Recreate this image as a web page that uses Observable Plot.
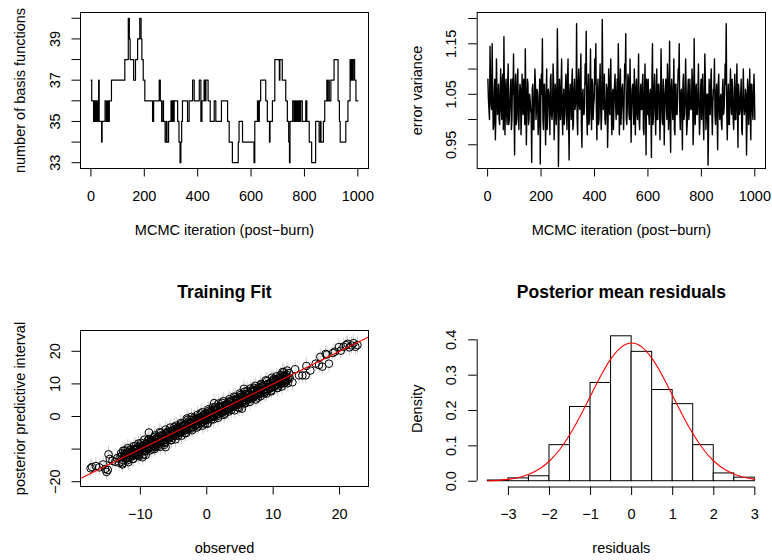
<!DOCTYPE html>
<html><head><meta charset="utf-8">
<script src="https://cdn.jsdelivr.net/npm/d3@7"></script>
<script src="https://cdn.jsdelivr.net/npm/@observablehq/plot@0.6"></script>
<style>
body{margin:0;background:#fff;}
#wrap{position:relative;width:772px;height:560px;background:#fff;overflow:hidden;}
#wrap svg{position:absolute;}
</style></head><body><div id="wrap"></div>
<script>
// ---------- Panel 1: number of basis functions (step trace, change points) ----------
const p1Iter = [1,3,10,12,14,16,18,20,22,24,26,29,31,40,42,53,58,62,66,69,77,127,140,144,147,160,167,175,183,188,191,196,202,231,235,256,260,265,270,272,278,283,285,291,300,302,304,306,308,310,312,325,330,334,337,340,343,362,368,381,387,406,412,416,424,428,431,439,447,462,468,489,512,518,530,552,555,568,611,614,624,628,631,636,655,661,669,671,680,689,706,708,717,730,736,741,744,746,756,761,765,768,772,775,779,782,786,792,805,809,818,827,842,855,860,862,871,876,884,886,891,893,899,911,926,931,934,955,963,971,975,977,981,983,988,993,1000];
const p1Basis = [37,36,35,36,35,36,35,36,35,36, 35,37,35,34,35,36,35,36,35,36, 37,38,40,39,38,37,38,39,40,39, 38,37,36,35,36,37,36,35,36,35, 34,35,34,35,36,35,36,35,36,35, 36,35,34,33,34,35,36,35,36,37, 36,37,35,36,37,36,37,36,35,36, 35,36,35,34,33,34,35,34,33,35, 36,35,36,37,36,35,34,35,36,38, 37,38,37,36,35,34,33,35,36,35, 36,35,36,35,36,35,36,35,36,35, 34,33,35,34,35,34,35,36,37,36, 37,36,37,38,36,35,34,35,36,38, 37,38,37,38,37,36,36];
const p1YTicks = [33,34,35,36,37,38,39,40];
const p1YLabels = ["33","","35","","37","","39",""];
const iterTicks = [0,200,400,600,800,1000];
const iterLabels = ["0","200","400","600","800","1000"];

// ---------- Panel 2: error variance trace ----------
// readings at iterations 1,5,9,...,997 (spikes and troughs)
const p2VarA = [
1.08,1.02,1.145,1.03,1.15,0.98,1.06,0.96,1.12,1.01,
1.07,0.99,1.10,1.00,1.09,1.164,0.97,1.08,0.99,1.11,
1.00,1.06,0.98,1.08,1.13,0.93,1.09,1.00,1.10,0.98,
1.07,0.97,1.09,1.01,1.06,1.14,0.95,1.08,0.99,1.05,
1.02,0.915,1.07,0.98,1.10,1.00,1.06,0.97,1.04,0.912,
1.09,1.16,0.98,1.07,0.95,1.10,1.01,1.05,0.97,1.09,
1.00,1.11,0.96,1.07,0.99,1.18,0.907,1.08,1.00,1.12,
0.97,1.06,1.01,1.09,0.98,1.12,0.92,1.07,1.00,1.10,
0.99,1.08,1.03,1.19,0.97,1.10,1.02,1.13,0.945,1.06,
1.01,1.11,1.175,0.97,1.09,1.00,1.14,0.98,1.07,1.03,
1.12,1.15,0.96,1.08,1.00,1.11,0.98,1.198,1.02,1.09,
0.99,1.07,0.945,1.10,1.01,1.12,0.97,1.06,1.03,1.09,
1.00,1.08,1.15,0.97,1.10,1.02,1.07,0.98,1.11,1.17,
0.99,1.09,1.01,1.12,0.955,1.06,1.03,1.10,0.97,1.08,
1.00,1.13,0.98,1.07,1.02,1.09,0.97,1.11,0.93,1.05,
1.08,0.99,1.06,0.925,1.15,1.01,1.09,0.97,1.10,1.00,
1.07,0.96,1.14,1.00,1.08,0.95,1.06,1.02,1.11,0.98,
1.155,0.935,1.08,1.00,1.12,0.97,1.07,1.01,1.10,1.15,
0.98,1.06,0.94,1.09,1.01,1.12,0.97,1.05,1.00,1.08,
1.02,1.10,0.95,1.16,0.99,1.07,1.01,1.11,0.97,1.06,
1.00,1.09,0.96,1.13,0.98,1.05,0.91,1.08,1.01,1.10,
0.97,1.06,1.12,0.99,1.07,0.94,1.09,1.00,1.05,0.98,
1.08,1.02,1.11,1.19,0.96,1.07,0.99,1.10,1.01,1.06,
0.98,1.09,1.00,1.11,0.945,1.05,1.02,1.08,0.97,1.10,
1.01,1.06,0.93,1.08,0.99,1.10,0.96,1.07,1.00,1.09];
// readings at iterations 3,7,11,...,999 (the dense central band)
const p2VarB = [
1.04,1.00,1.07,1.02,1.05,0.99,1.08,1.01,1.06,1.03,
1.00,1.05,1.02,1.08,0.98,1.04,1.06,1.01,1.07,0.99,
1.03,1.08,1.00,1.05,1.02,1.06,0.99,1.07,1.01,1.04,
1.06,1.01,1.03,1.08,0.99,1.05,1.02,1.07,1.00,1.04,
1.01,1.06,0.98,1.04,1.07,1.02,1.05,0.99,1.08,1.03,
1.05,1.00,1.07,1.02,1.04,0.98,1.06,1.03,1.08,1.01,
1.02,1.07,1.00,1.05,1.03,1.08,0.99,1.04,1.06,1.01,
1.04,0.99,1.06,1.02,1.08,1.00,1.05,1.03,1.07,0.98,
1.06,1.02,1.04,1.00,1.07,1.03,1.08,0.99,1.05,1.01,
1.03,1.07,1.01,1.05,0.99,1.06,1.02,1.08,1.00,1.04,
1.07,1.02,1.05,0.99,1.06,1.03,1.01,1.08,1.04,1.00,
1.02,1.06,1.00,1.04,1.08,1.01,1.05,0.98,1.07,1.03,
1.05,1.01,1.07,1.03,0.99,1.06,1.02,1.04,1.08,1.00,
1.03,1.08,1.00,1.05,1.02,1.07,0.99,1.04,1.06,1.01,
1.06,1.00,1.04,1.02,1.07,0.98,1.05,1.03,1.08,1.01,
1.01,1.05,1.03,1.08,0.99,1.06,1.02,1.04,1.00,1.07,
1.04,1.02,1.06,0.99,1.05,1.03,1.08,1.00,1.07,1.02,
1.00,1.06,1.03,1.05,0.98,1.07,1.01,1.04,1.08,1.02,
1.05,1.01,1.07,1.00,1.04,1.06,0.99,1.08,1.02,1.03,
1.02,1.07,0.99,1.04,1.06,1.01,1.05,1.03,1.00,1.08,
1.06,1.00,1.04,1.08,1.01,1.05,0.98,1.03,1.07,1.02,
1.03,1.06,1.01,1.05,1.00,1.07,1.02,1.04,0.99,1.06,
1.01,1.05,1.07,1.02,1.04,0.99,1.06,1.03,1.08,1.00,
1.04,1.00,1.06,1.02,1.07,1.01,1.05,0.98,1.04,1.03,
1.02,1.05,1.00,1.06,1.03,1.01,1.07,1.02,1.05,1.04];
const p2LastIter = 1000, p2LastVar = 1.00;
const p2YTicks = [0.95,1.00,1.05,1.10,1.15,1.20];
const p2YLabels = ["0.95","","1.05","","1.15",""];

// ---------- Panel 3: training fit ----------
const p3Obs = [
-17.5,-17.3,-16.7,-16.2,-15.6,-15.3,-15.1,-14.9,-14.8,-14.6,-14.2,-13.8,-13.5,-13.2,-13.0,
-12.8,-12.6,-12.4,-12.2,-12.0,-11.8,-11.6,-11.4,-11.2,-11.0,-10.8,-10.6,-10.4,-10.2,-10.0,-9.8,-9.7,-9.6,-9.4,-9.2,-9.0,-8.8,-8.7,-8.6,-8.4,-8.2,-8.0,-7.8,-7.7,-7.6,-7.4,-7.2,-7.0,-6.8,-6.6,-6.4,-6.2,-6.0,-5.8,-5.6,-5.4,-5.2,-5.0,-4.8,-4.6,-4.4,-4.2,-4.0,-3.8,-3.6,-3.4,-3.2,-3.0,-2.8,-2.6,-2.4,-2.2,-2.0,-1.8,-1.6,-1.4,-1.2,-1.0,-0.8,-0.6,-0.4,-0.2,0.0,0.1,0.2,0.4,0.6,0.8,1.0,1.1,1.2,1.4,1.6,1.8,2.0,2.2,2.4,2.6,2.8,3.0,3.2,3.4,3.6,3.8,4.0,4.2,4.4,4.6,4.8,5.0,5.3,5.2,5.4,5.6,5.6,5.8,6.0,6.2,6.4,6.6,6.8,7.0,7.2,7.4,7.6,7.8,8.0,8.2,8.4,8.6,8.8,9.0,9.2,9.4,9.6,9.8,10.0,10.2,10.4,10.6,10.8,11.0,11.2,11.4,11.6,11.8,12.0,12.2,
-12.5,-12.1,-11.7,-11.3,-10.9,-10.5,-10.1,-9.5,-9.1,-8.5,-8.1,-7.5,-7.1,-6.5,-6.1,-5.5,-5.1,-4.5,-4.1,-3.5,-3.1,-2.5,-2.1,-1.5,-1.1,-0.5,-0.1,0.5,0.9,1.5,1.9,2.5,2.9,3.5,3.9,4.5,4.9,5.5,5.9,6.5,6.9,7.5,7.9,8.5,8.9,9.5,9.9,10.5,10.9,11.5,11.9,12.3,12.5,11.8,12.4,11.6,
12.9,13.9,14.4,14.9,15.6,16.4,16.9,17.1,17.4,17.9,18.1,18.4,19.0,19.3,19.9,20.2,20.6,21.0,21.2,21.5,21.8,22.1,22.4,22.7,13.3,15.0];
const p3Fit = [
-15.9,-15.5,-15.2,-15.6,-14.7,-16.1,-17.0,-16.4,-11.6,-13.0,-13.6,-13.9,-12.8,-14.2,-12.3,
-12.1,-13.4,-11.5,-12.9,-11.0,-12.6,-10.9,-12.0,-11.9,-10.2,-11.6,-9.8,-11.2,-10.9,-9.4,-10.7,-12.5,-8.9,-10.1,-11.8,-8.3,-9.7,-4.9,-7.8,-9.3,-7.5,-8.9,-9.2,-9.4,-6.8,-8.1,-6.3,-7.9,-6.0,-7.5,-8.7,-9.4,-5.2,-6.7,-4.8,-6.2,-4.3,-5.9,-4.0,-5.5,-3.7,-5.0,-3.2,-4.7,-2.9,-4.3,-2.4,-3.8,-2.0,-3.6,-1.7,-3.1,-1.1,-2.7,-0.9,-2.3,-0.4,-1.9,-0.1,-1.6,0.3,-1.1,0.6,-2.2,-0.7,1.2,-0.3,1.5,0.1,4.1,1.9,0.5,2.4,0.9,2.8,1.3,3.1,1.7,3.5,2.1,3.9,2.6,4.4,2.9,4.8,3.3,5.1,3.7,5.6,4.1,2.4,6.0,4.5,8.5,6.3,4.9,6.8,5.3,7.1,5.7,7.6,6.1,8.0,6.5,8.3,6.9,8.8,7.3,9.2,7.6,9.6,8.1,10.0,8.5,10.4,8.9,10.8,9.3,11.2,9.7,11.5,10.1,12.0,10.6,12.4,11.0,12.9,11.4,
-12.6,-11.8,-11.9,-11.1,-11.2,-10.3,-10.4,-9.3,-9.5,-8.3,-8.4,-7.2,-7.4,-6.3,-6.5,-5.2,-5.4,-4.3,-4.4,-3.2,-3.5,-2.3,-2.4,-1.3,-1.4,-0.3,-0.4,0.3,0.6,1.2,1.6,2.2,2.5,3.1,3.5,4.1,4.5,5.0,5.5,6.0,6.5,7.0,7.5,8.0,8.5,9.0,9.5,10.0,10.5,11.0,11.5,12.0,11.8,10.4,13.3,13.6,
10.5,12.6,12.6,12.6,14.1,16.2,15.8,18.3,15.3,19.2,19.0,16.2,19.5,19.9,21.3,20.2,21.4,21.9,22.3,21.2,21.8,22.5,21.4,21.9,14.5,15.5];
// further points in the dense band: observed value and its offset (fit - observed)
const p3ObsB = [-12.9,-12.7,-12.3,-11.9,-11.5,-11.1,-10.7,-10.3,-9.9,-9.3,-8.9,-8.3,-7.9,-7.3,-6.9,-6.3,-5.9,-5.3,-4.9,-4.3,-3.9,-3.3,-2.9,-2.3,-1.9,-1.3,-0.9,-0.3,0.3,0.7,1.3,1.7,2.3,2.7,3.3,3.7,4.3,4.7,5.1,5.7,6.1,6.7,7.1,7.7,8.1,8.7,9.1,9.7,10.1,10.7,11.1,11.7];
const p3OffB = [1.6,-1.7,1.9,-1.5,1.4,-1.9,1.7,-1.6,1.8,-1.4,1.5,-1.8,1.6,-1.7,1.9,-1.5,1.3,-1.9,1.7,-1.6,1.5,-1.8,1.9,-1.4,1.6,-1.7,1.8,-1.9,1.4,-1.6,1.7,-1.5,1.9,-1.8,1.3,-1.7,1.6,-1.9,1.5,-1.6,1.8,-1.4,1.7,-1.9,1.5,-1.6,1.8,-1.7,1.4,-1.9,1.6,-1.5];
const p3ObsC = [-12.8,-12.4,-12.0,-11.6,-11.2,-10.8,-10.4,-10.0,-9.6,-9.2,-8.8,-8.4,-8.0,-7.6,-7.2,-6.8,-6.4,-6.0,-5.6,-5.2,-4.8,-4.4,-4.0,-3.6,-3.2,-2.8,-2.4,-2.0,-1.6,-1.2,-0.8,-0.4,0.0,0.4,0.8,1.2,1.6,2.0,2.4,2.8,3.2,3.6,4.0,4.4,4.8,5.2,5.6,6.0,6.4,6.8,7.2,7.6,8.0,8.4,8.8,9.2,9.6,10.0,10.4,10.8,11.2,11.6,12.0];
const p3OffC = [-1.1,1.0,-0.9,1.2,-1.0,0.9,-1.2,1.1,-1.0,0.8, -1.1,1.2,-0.9,1.0,-1.2,1.1,-0.8,1.0,-1.1,0.9, -1.2,1.0,-1.1,0.9,-1.0,1.2,-0.9,1.1,-1.0,0.8, -1.2,1.0,-1.1,0.9,-1.0,1.2,-0.9,1.1,-1.2,0.8, -1.0,1.1,-0.9,1.0,-1.2,0.9,-1.1,1.0,-0.8,1.2, -1.0,0.9,-1.1,1.0,-1.2,0.8,-0.9,1.1,-1.0,0.9, -1.2,1.0,-1.1];
const p3ObsD = [-12.6,-12.2,-11.8,-11.4,-11.0,-10.6,-10.2,-9.8,-9.4,-9.0,-8.6,-8.2,-7.8,-7.4,-7.0,-6.6,-6.2,-5.8,-5.4,-5.0,-4.6,-4.2,-3.8,-3.4,-3.0,-2.6,-2.2,-1.8,-1.4,-1.0,-0.6,-0.2,0.2,0.6,1.0,1.4,1.8,2.2,2.6,3.0,3.4,3.8,4.2,4.6,5.0,5.4,5.8,6.2,6.6,7.0,7.4,7.8,8.2,8.6,9.0,9.4,9.8,10.2,10.6,11.0,11.4,11.8,12.2];
const p3OffD = [2.1,-0.4,-2.2,0.5,1.9,-0.3,-2.0,0.4,2.3,-0.5, -1.8,0.2,2.0,-0.2,-2.3,0.6,2.2,-0.4,-1.9,0.3, 1.8,-0.6,-2.1,0.4,2.4,-0.3,-2.0,0.5,1.9,-0.2, -2.2,0.3,2.0,-0.5,-1.9,0.4,2.2,-0.3,-2.1,0.6, 1.9,-0.4,-2.3,0.2,2.1,-0.5,-1.8,0.3,2.0,-0.4, -2.2,0.5,1.8,-0.3,-2.0,0.4,2.1,-0.6,-1.9,0.2, 2.2,-0.3,-2.0];
const p3ObsE = [-12.7,-12.3,-11.9,-11.5,-11.1,-10.7,-10.3,-9.9,-9.5,-9.1,-8.7,-8.3,-7.9,-7.5,-7.1,-6.7,-6.3,-5.9,-5.5,-5.1,-4.7,-4.3,-3.9,-3.5,-3.1,-2.7,-2.3,-1.9,-1.5,-1.1,-0.7,-0.3,0.1,0.5,0.9,1.3,1.7,2.1,2.5,2.9,3.3,3.7,4.1,4.5,4.9,5.3,5.7,6.1,6.5,6.9,7.3,7.7,8.1,8.5,8.9,9.3,9.7,10.1,10.5,10.9,11.3,11.7,12.1];
const p3OffE = [-2.0,0.3,2.2,-0.5,-1.9,0.4,2.0,-0.2,-2.2,0.5, 1.8,-0.3,-2.1,0.6,2.3,-0.4,-1.8,0.2,2.1,-0.5, -2.3,0.4,1.9,-0.3,-2.0,0.5,2.2,-0.2,-1.9,0.3, 2.0,-0.6,-2.2,0.4,1.9,-0.3,-2.1,0.5,2.2,-0.4, -1.8,0.3,2.0,-0.5,-2.3,0.2,1.9,-0.4,-2.0,0.6, 2.1,-0.3,-1.9,0.4,2.2,-0.5,-2.0,0.3,1.8,-0.2, -2.1,0.4,2.0];
const p3HalfInterval = 2.6;
const p3XTicks = [-10,0,10,20];
const p3XLabels = ["\u221210","0","10","20"];
const p3YTicks = [-20,-10,0,10,20];
const p3YLabels = ["\u221220","","0","10","20"];

// ---------- Panel 4: residual histogram ----------
const p4BinLo = [-3.5,-3,-2.5,-2,-1.5,-1,-0.5,0,0.5,1,1.5,2,2.5];
const p4BinHi = [-3,-2.5,-2,-1.5,-1,-0.5,0,0.5,1,1.5,2,2.5,3];
const p4Density = [0.002,0.008,0.014,0.102,0.21,0.278,0.41,0.366,0.258,0.218,0.102,0.022,0.01];
const p4CurveX = [-3.5,-3.25,-3,-2.75,-2.5,-2.25,-2,-1.75,-1.5,-1.25,-1,-0.75,-0.5,-0.25,0,0.25,0.5,0.75,1,1.25,1.5,1.75,2,2.25,2.5,2.75,3];
const p4CurveY = [0.0011,0.0024,0.0052,0.0103,0.0194,0.0343,0.0572,0.0897,0.1326,0.1846,0.2418,0.2985,0.3467,0.3795,0.391,0.3795,0.3467,0.2985,0.2418,0.1846,0.1326,0.0897,0.0572,0.0343,0.0194,0.0103,0.0052];
const p4XTicks = [-3,-2,-1,0,1,2,3];
const p4XLabels = ["\u22123","\u22122","\u22121","0","1","2","3"];
const p4YTicks = [0,0.1,0.2,0.3,0.4];
const p4YLabels = ["0.0","0.1","0.2","0.3","0.4"];

// ---------- shared styling ----------
const FONT = "'Liberation Sans', Arial, Helvetica, sans-serif";
const style = {fontFamily: FONT, fontSize: "14.5px", background: "white", color: "black", overflow: "visible"};
const TS = 8.5;
const fmt = (ticks, labels) => d => labels[ticks.indexOf(d)];
const xAxis = (ticks, labels) => Plot.axisX({ticks, tickFormat: fmt(ticks, labels), tickSize: TS, tickPadding: 32 - TS, lineAnchor: "bottom", label: null, stroke: "black"});
const yAxis = (ticks, labels) => Plot.axisY({ticks, tickFormat: fmt(ticks, labels), tickSize: TS, tickPadding: 21 - TS, tickRotate: -90, label: null, stroke: "black"});
const xTitle = t => Plot.text([t], {text: d => d, frameAnchor: "bottom", dy: 66, lineAnchor: "bottom", fontSize: 14.5});
const yTitle = t => Plot.text([t], {text: d => d, frameAnchor: "left", dx: -55.5, rotate: -90, textAnchor: "middle", lineAnchor: "bottom", fontSize: 14.5});
const mainTitle = t => Plot.text([t], {text: d => d, frameAnchor: "top", dy: -33, lineAnchor: "bottom", fontSize: 17.5, fontWeight: "bold"});

const wrap = document.getElementById("wrap");
function place(svg, left, top) { svg.style.left = left + "px"; svg.style.top = top + "px"; wrap.appendChild(svg); }

// Panel 1
const p1Data = p1Iter.map((it, i) => ({it, k: p1Basis[i]}));
place(Plot.plot({
  width: 386, height: 280, marginLeft: 80, marginRight: 18, marginTop: 12, marginBottom: 112, style,
  x: {domain: [-39, 1040], label: null}, y: {domain: [32.72, 40.28], label: null},
  marks: [
    Plot.line(p1Data, {x: "it", y: "k", curve: "step-after", stroke: "black", strokeWidth: 1.2}),
    Plot.frame({stroke: "black"}),
    xAxis(iterTicks, iterLabels), yAxis(p1YTicks, p1YLabels),
    xTitle("MCMC iteration (post\u2212burn)"), yTitle("number of basis functions")
  ]
}), 0, 0);

// Panel 2
const p2Data = [];
p2VarA.forEach((v, i) => {
  p2Data.push({it: 1 + 4 * i, v});
  if (i < p2VarB.length) p2Data.push({it: 3 + 4 * i, v: p2VarB[i]});
});
p2Data.push({it: p2LastIter, v: p2LastVar});
place(Plot.plot({
  width: 386, height: 280, marginLeft: 90.7, marginRight: 7, marginTop: 12, marginBottom: 112, style,
  x: {domain: [-39, 1040], label: null}, y: {domain: [0.903, 1.212], label: null},
  marks: [
    Plot.line(p2Data, {x: "it", y: "v", stroke: "black", strokeWidth: 1.4}),
    Plot.frame({stroke: "black"}),
    xAxis(iterTicks, iterLabels), yAxis(p2YTicks, p2YLabels),
    xTitle("MCMC iteration (post\u2212burn)"), yTitle("error variance")
  ]
}), 386, 0);

// Panel 3
const withOffset = (obs, off) => obs.map((o, i) => ({o, f: o + off[i]}));
const p3Data = p3Obs.map((o, i) => ({o, f: p3Fit[i]}))
  .concat(withOffset(p3ObsB, p3OffB), withOffset(p3ObsC, p3OffC), withOffset(p3ObsD, p3OffD), withOffset(p3ObsE, p3OffE));
const p3XDom = [-19.02, 24.36], p3YDom = [-21.47, 26.38];
place(Plot.plot({
  width: 386, height: 280, marginLeft: 80, marginRight: 18, marginTop: 50, marginBottom: 74, style,
  x: {domain: p3XDom, label: null}, y: {domain: p3YDom, label: null},
  marks: [
    Plot.ruleX(p3Data, {x: "o", y1: d => d.f - p3HalfInterval, y2: d => d.f + p3HalfInterval, stroke: "#d3d3d3", strokeWidth: 1}),
    Plot.dot(p3Data, {x: "o", y: "f", r: 3.8, stroke: "black", fill: "none", strokeWidth: 1}),
    Plot.link([{a: p3XDom[0], b: p3XDom[1]}], {x1: "a", y1: "a", x2: "b", y2: "b", stroke: "red", strokeWidth: 1.1}),
    Plot.frame({stroke: "black"}),
    xAxis(p3XTicks, p3XLabels), yAxis(p3YTicks, p3YLabels),
    xTitle("observed"), yTitle("posterior predictive interval"), mainTitle("Training Fit")
  ]
}), 0, 280);

// Panel 4
const p4Bins = p4BinLo.map((lo, i) => ({lo, hi: p4BinHi[i], d: p4Density[i]}));
const p4Curve = p4CurveX.map((x, i) => ({x, y: p4CurveY[i]}));
const p4XDom = [-3.76, 3.26], p4YDom = [-0.0164, 0.4264];
place(Plot.plot({
  width: 386, height: 280, marginLeft: 90.7, marginRight: 7, marginTop: 50, marginBottom: 73.5, style,
  x: {domain: p4XDom, label: null}, y: {domain: p4YDom, label: null},
  marks: [
    Plot.rectY(p4Bins, {x1: "lo", x2: "hi", y1: 0, y2: "d", fill: "white", stroke: "black", strokeWidth: 1}),
    Plot.line(p4Curve, {x: "x", y: "y", curve: "natural", stroke: "red", strokeWidth: 1.1}),
    Plot.ruleX([p4XDom[0]], {y1: p4YTicks[0], y2: p4YTicks[p4YTicks.length - 1], stroke: "black"}),
    Plot.ruleY([p4YDom[0]], {x1: p4XTicks[0], x2: p4XTicks[p4XTicks.length - 1], stroke: "black"}),
    xAxis(p4XTicks, p4XLabels), yAxis(p4YTicks, p4YLabels),
    xTitle("residuals"), yTitle("Density"), mainTitle("Posterior mean residuals")
  ]
}), 386, 280);
</script></body></html>
